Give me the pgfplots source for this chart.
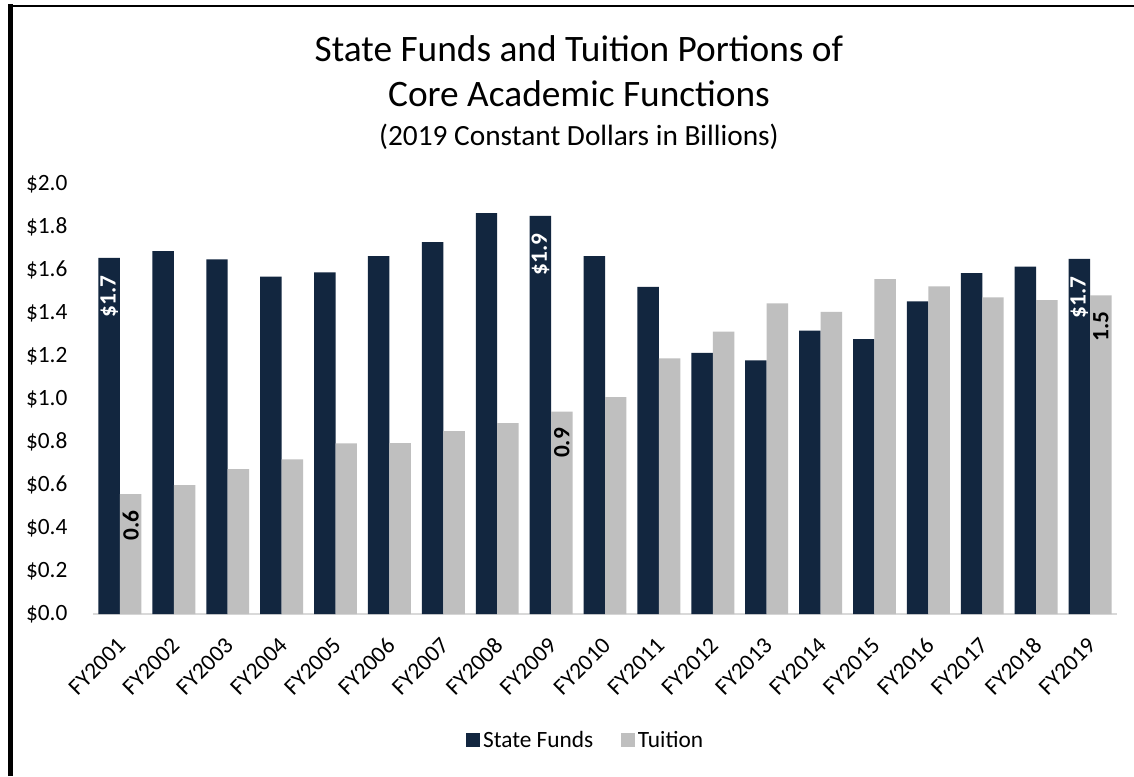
\documentclass[border=0pt]{standalone}
\usepackage{pgfplots}
\pgfplotsset{compat=1.18}
\usepackage{fontspec}
\setmainfont{Carlito}
\definecolor{navy}{HTML}{12263F}
\definecolor{tgray}{HTML}{BFBFBF}
\definecolor{axgray}{HTML}{D9D9D9}
\begin{document}
\begin{tikzpicture}
\path[use as bounding box] (0pt,0pt) rectangle (850.5pt,582pt);
\fill[white] (0pt,0pt) rectangle (850.5pt,582pt);
\draw[black, line width=3.75pt] (8.1pt,0pt) -- (8.1pt,579pt);
\draw[black, line width=1.8pt] (6.2pt,577.5pt) -- (850.5pt,577.5pt);
\node[anchor=base, inner sep=0pt, font=\fontsize{28}{33}\selectfont] at (434.25pt,535.5pt) {State Funds and Tuition Portions of};
\node[anchor=base, inner sep=0pt, font=\fontsize{28}{33}\selectfont] at (434.25pt,501.75pt) {Core Academic Functions};
\node[anchor=base, inner sep=0pt, font=\fontsize{22}{26}\selectfont] at (434.25pt,473pt) {(2019 Constant Dollars in Billions)};
\begin{axis}[
  at={(69.75pt,121.5pt)}, anchor=south west,
  scale only axis, width=768pt, height=322.5pt,
  xmin=-0.5, xmax=18.5, ymin=0, ymax=2,
  ytick={0,0.2,0.4,0.6,0.8,1.0,1.2,1.4,1.6,1.8,2.0},
  xtick={0,...,18},
  xticklabels={FY2001,FY2002,FY2003,FY2004,FY2005,FY2006,FY2007,FY2008,FY2009,FY2010,FY2011,FY2012,FY2013,FY2014,FY2015,FY2016,FY2017,FY2018,FY2019},
  /pgf/number format/assume math mode=true,
  yticklabel={\$\pgfmathprintnumber[fixed,fixed zerofill,precision=1]{\tick}},
  yticklabel style={anchor=east, inner sep=0pt, xshift=-19pt, font=\fontsize{17.5}{20}\selectfont},
  xticklabel style={rotate=45, anchor=east, inner sep=0pt, xshift=-13.8pt, yshift=-15.6pt, font=\fontsize{17.5}{20}\selectfont},
  major tick length=0pt,
  axis x line*=bottom, axis y line*=left,
  y axis line style={draw=none},
  x axis line style={draw=axgray, line width=1.4pt, -},
  clip=false,
  legend style={at={(0.4815,-0.293)}, anchor=center, draw=none, fill=none,
    font=\fontsize{17.5}{20}\selectfont, legend columns=2,
    /tikz/every even column/.append style={column sep=19pt}},
  legend image code/.code={\fill[#1] (0pt,-5.25pt) rectangle (10.5pt,5.25pt);},
]
\addplot[ybar, bar width=16.1pt, bar shift=-8.05pt, fill=navy, draw=none] coordinates {
(0,1.656) (1,1.688) (2,1.650) (3,1.569) (4,1.589) (5,1.665) (6,1.730) (7,1.865) (8,1.852) (9,1.664)
(10,1.521) (11,1.214) (12,1.180) (13,1.318) (14,1.279) (15,1.454) (16,1.585) (17,1.616) (18,1.652)};
\addlegendentry{State Funds}
\addplot[ybar, bar width=16.1pt, bar shift=8.05pt, fill=tgray, draw=none] coordinates {
(0,0.558) (1,0.600) (2,0.674) (3,0.719) (4,0.794) (5,0.795) (6,0.851) (7,0.888) (8,0.941) (9,1.009)
(10,1.189) (11,1.313) (12,1.445) (13,1.405) (14,1.558) (15,1.524) (16,1.473) (17,1.460) (18,1.482)};
\addlegendentry{Tuition}
\addplot[only marks, mark=none, forget plot, point meta=y,
  nodes near coords={\$\pgfmathprintnumber[fixed,precision=1]{\pgfplotspointmeta}},
  every node near coord/.append style={rotate=90, anchor=east, inner xsep=13pt, inner ysep=0pt, text=white, font=\bfseries\fontsize{17.5}{20}\selectfont}]
  coordinates {(-0.1992,1.656) (7.8008,1.852) (17.8008,1.652)};
\addplot[only marks, mark=none, forget plot, point meta=y,
  nodes near coords={\pgfmathprintnumber[fixed,precision=1]{\pgfplotspointmeta}},
  every node near coord/.append style={rotate=90, anchor=east, inner xsep=12pt, inner ysep=0pt, text=black, font=\bfseries\fontsize{17.5}{20}\selectfont}]
  coordinates {(0.1992,0.558) (8.1992,0.941) (18.1992,1.482)};
\end{axis}
\end{tikzpicture}
\end{document}
